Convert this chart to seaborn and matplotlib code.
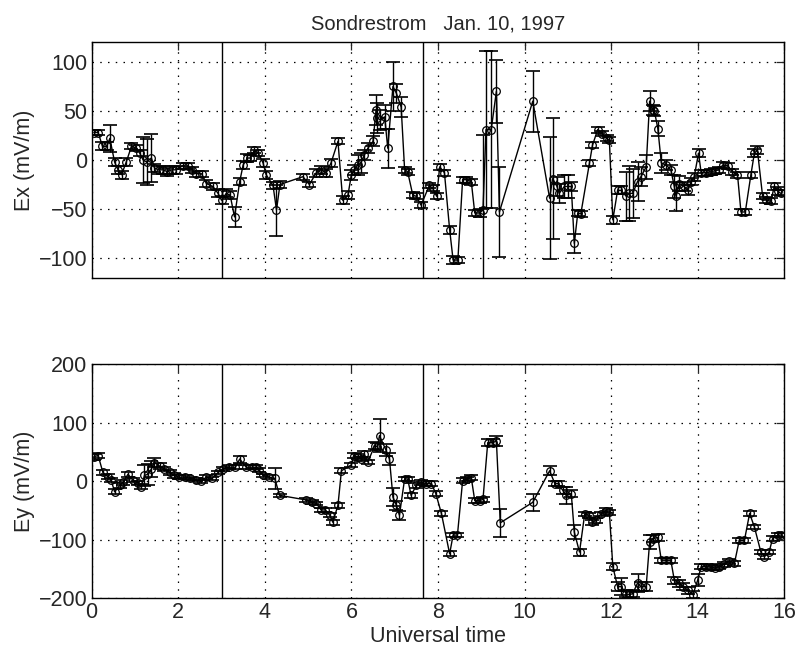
import numpy as np
import pandas as pd
import matplotlib
matplotlib.use("Agg")
import matplotlib.pyplot as plt
import seaborn as sns

# ---- Ex data (top panel) ----
t_ex = [0.05, 0.15, 0.25, 0.35, 0.42, 0.53, 0.61, 0.69, 0.80, 0.92, 1.03, 1.11, 1.19, 1.27, 1.38,
        1.45, 1.55, 1.65, 1.75, 1.85, 1.95, 2.10, 2.22, 2.32, 2.42, 2.54, 2.65, 2.80, 2.92, 3.00,
        3.11, 3.20, 3.30, 3.42, 3.50, 3.60, 3.66, 3.76, 3.85, 3.96, 4.03, 4.19, 4.27, 4.35, 4.88,
        5.03, 5.19, 5.30, 5.42, 5.53, 5.69, 5.80, 5.92, 6.00, 6.07, 6.15, 6.22, 6.30, 6.38, 6.50,
        6.57, 6.60, 6.66, 6.77, 6.84, 6.96, 7.04, 7.15, 7.23, 7.30, 7.42, 7.50, 7.61, 7.80, 7.88,
        7.97, 8.04, 8.15, 8.27, 8.35, 8.46, 8.57, 8.65, 8.77, 8.85, 8.96, 9.04, 9.11, 9.23, 9.35,
        9.42, 10.19, 10.58, 10.65, 10.75, 10.80, 10.92, 11.00, 11.08, 11.15, 11.23, 11.30, 11.50,
        11.57, 11.69, 11.80, 11.90, 11.96, 12.04, 12.15, 12.23, 12.35, 12.42, 12.50, 12.61, 12.69,
        12.81, 12.89, 12.96, 13.00, 13.08, 13.16, 13.27, 13.38, 13.46, 13.50, 13.58, 13.69, 13.77,
        13.85, 13.92, 14.02, 14.08, 14.20, 14.30, 14.40, 14.50, 14.58, 14.70, 14.80, 14.92, 15.00,
        15.10, 15.23, 15.31, 15.38, 15.50, 15.58, 15.69, 15.77, 15.85, 15.92]
ex = [28, 28, 14, 14, 22, -2, -10, -15, -2, 14, 12, 7, 0, -2, 2,
      -8, -10, -10, -12, -10, -10, -6, -6, -10, -14, -14, -24, -27, -34, -41,
      -34, -36, -58, -22, -5, 2, 2, 10, 7, -3, -15, -26, -51, -25, -17,
      -25, -13, -10, -13, -3, 19, -41, -36, -15, -10, -5, -3, 5, 12, 19,
      51, 43, 41, 44, 12, 75, 68, 54, -10, -12, -36, -37, -46, -26, -29,
      -37, -7, -13, -71, -102, -102, -20, -20, -22, -54, -54, -51, 31, 31, 70,
      -53, 60, -39, -19, -27, -34, -27, -27, -27, -85, -54, -55, -3,
      15, 31, 27, 22, 20, -61, -31, -31, -37, -34, -34, -22, -17,
      -7, 60, 51, 50, 32, -3, -5, -10, -27, -37, -24, -27, -31,
      -22, -17, 7, -13, -13, -12, -11, -10, -5, -6, -12, -15, -53,
      -53, -15, 7, 10, -37, -41, -42, -27, -32, -34]
ex_err = [3, 3, 4, 4, 14, 4, 4, 4, 4, 3, 3, 3, 23, 23, 24,
          4, 4, 4, 4, 4, 4, 3, 3, 3, 3, 3, 4, 4, 4, 4,
          4, 4, 10, 4, 4, 4, 3, 3, 3, 4, 4, 4, 26, 4, 3,
          3, 4, 4, 4, 4, 3, 4, 4, 5, 5, 10, 10, 5, 5, 5,
          15, 15, 10, 12, 20, 25, 10, 10, 3, 3, 3, 3, 3, 3, 3,
          3, 3, 3, 4, 4, 3, 3, 3, 3, 3, 4, 76, 80, 80, 32,
          46, 31, 62, 62, 10, 10, 12, 12, 5, 10, 3, 3, 3,
          3, 3, 3, 3, 3, 4, 4, 4, 25, 28, 25, 20, 10,
          12, 10, 5, 5, 8, 10, 5, 5, 12, 15, 8, 5, 5,
          4, 4, 4, 3, 3, 3, 3, 3, 3, 3, 3, 3, 3,
          3, 3, 4, 4, 3, 3, 3, 4, 4, 3]

# ---- Ey data (bottom panel) ----
t_ey = [0.05, 0.15, 0.26, 0.37, 0.45, 0.53, 0.65, 0.72, 0.84, 0.95, 1.07, 1.15, 1.22, 1.30, 1.38,
        1.45, 1.57, 1.68, 1.80, 1.91, 2.02, 2.15, 2.28, 2.40, 2.52, 2.65, 2.78, 2.92, 3.03, 3.17,
        3.32, 3.42, 3.57, 3.70, 3.80, 3.87, 3.96, 4.10, 4.23, 4.34, 4.96, 5.08, 5.19, 5.30, 5.40,
        5.50, 5.57, 5.69, 5.77, 6.00, 6.05, 6.15, 6.22, 6.30, 6.38, 6.54, 6.60, 6.65, 6.80, 6.88,
        6.96, 7.04, 7.11, 7.23, 7.30, 7.38, 7.50, 7.61, 7.73, 7.85, 7.95, 8.08, 8.27, 8.35, 8.45,
        8.57, 8.67, 8.77, 8.85, 8.96, 9.04, 9.15, 9.27, 9.35, 9.44, 10.19, 10.58, 10.70, 10.77, 10.88,
        10.96, 11.08, 11.15, 11.27, 11.39, 11.50, 11.57, 11.65, 11.76, 11.88, 11.96, 12.04, 12.15, 12.23,
        12.35, 12.42, 12.50, 12.61, 12.69, 12.81, 12.89, 12.96, 13.08, 13.16, 13.27, 13.38, 13.46, 13.58,
        13.65, 13.77, 13.89, 14.00, 14.08, 14.20, 14.30, 14.40, 14.50, 14.60, 14.73, 14.85, 14.96, 15.08,
        15.20, 15.31, 15.46, 15.54, 15.65, 15.73, 15.85, 15.92]
ey = [42, 44, 15, 8, 2, -18, -7, -2, 12, 2, -3, -9, 10, 12, 21,
      32, 26, 21, 15, 10, 7, 7, 5, 3, 0, 7, 5, 15, 21, 24,
      24, 38, 24, 24, 24, 19, 10, 7, 5, -24, -32, -35, -38, -49, -49,
      -58, -70, -41, 18, 28, 44, 42, 38, 46, 33, 61, 59, 78, 53, 38,
      -27, -41, -58, 4, 4, -24, -7, -2, -4, -4, -21, -55, -124, -92, -92,
      1, 4, 6, -33, -33, -31, 66, 66, 69, -71, -36, 18, -4, -4, -15,
      -24, -21, -87, -121, -56, -58, -70, -67, -56, -50, -53, -146, -180, -180,
      -192, -194, -192, -174, -180, -180, -104, -98, -96, -135, -135, -135, -169, -174,
      -180, -186, -194, -169, -146, -146, -147, -148, -146, -142, -137, -140, -101, -101,
      -55, -78, -121, -129, -121, -98, -92, -92]
ey_err = [5, 4, 4, 4, 3, 4, 4, 4, 4, 4, 4, 5, 18, 18, 14,
          8, 5, 4, 4, 4, 3, 3, 3, 3, 3, 3, 3, 3, 3, 3,
          3, 6, 3, 3, 3, 3, 3, 3, 18, 3, 3, 3, 3, 3, 3,
          3, 4, 4, 4, 4, 4, 4, 4, 5, 4, 6, 6, 28, 10, 10,
          15, 8, 8, 4, 4, 4, 4, 4, 4, 4, 4, 4, 4, 4, 4,
          4, 4, 4, 4, 4, 4, 6, 6, 8, 24, 15, 8, 4, 4, 6,
          15, 6, 12, 6, 4, 4, 4, 4, 4, 4, 4, 6, 8, 15,
          6, 6, 6, 15, 8, 8, 12, 6, 6, 4, 4, 4, 6, 6,
          6, 6, 6, 10, 4, 4, 4, 4, 4, 4, 4, 4, 4, 4,
          4, 4, 4, 4, 4, 4, 4, 4]

x_ticks = [0, 2, 4, 6, 8, 10, 12, 14, 16]
ex_ticks = [-100, -50, 0, 50, 100]
ey_ticks = [-200, -100, 0, 100, 200]
marker_times = [3.0, 7.65]

sns.set_style("white")
plt.rcParams['font.family'] = ['Liberation Sans', 'DejaVu Sans']
plt.rcParams['axes.unicode_minus'] = True

fig = plt.figure(figsize=(7.97, 6.56), dpi=100)
ax1 = fig.add_axes([0.115, 0.5767, 0.869, 0.3588])
ax2 = fig.add_axes([0.115, 0.088, 0.869, 0.3567])

df_ex = pd.DataFrame({"t": t_ex, "v": ex, "e": ex_err})
df_ey = pd.DataFrame({"t": t_ey, "v": ey, "e": ey_err})

for ax, df, ticks, lim, lab in [(ax1, df_ex, ex_ticks, (-120, 120), "Ex (mV/m)"),
                                (ax2, df_ey, ey_ticks, (-200, 200), "Ey (mV/m)")]:
    ax.errorbar(df["t"], df["v"], yerr=df["e"], fmt="none", ecolor="black",
                elinewidth=1.0, capsize=4.8, capthick=1.2, zorder=3)
    sns.lineplot(data=df, x="t", y="v", ax=ax, sort=False, estimator=None,
                 color="black", linewidth=1.0, marker="o", markersize=5.5,
                 markerfacecolor="none", markeredgecolor="black", markeredgewidth=0.9,
                 zorder=4)
    for mt in marker_times:
        ax.axvline(mt, color="black", linewidth=1.0, zorder=2)
    ax.set_xlim(0, 16)
    ax.set_ylim(*lim)
    ax.set_xticks(x_ticks)
    ax.set_yticks(ticks)
    ax.grid(True, linestyle=(0, (1.2, 5)), color="black", linewidth=0.9)
    ax.tick_params(direction="in", top=True, right=True, length=6, width=0.9,
                   labelsize=15.5, pad=3)
    ax.set_ylabel(lab, fontsize=15.5, labelpad=3)
    for s in ax.spines.values():
        s.set_color("black")
        s.set_linewidth(1.0)

ax1.set_xticklabels([])
ax1.set_xlabel("")
ax2.set_xticklabels([str(v) for v in x_ticks])
ax2.set_xlabel("Universal time", fontsize=15.5, labelpad=2)
ax1.set_title("Sondrestrom   Jan. 10, 1997", fontsize=14.5, pad=9)

fig.savefig("out.png", dpi=100)
